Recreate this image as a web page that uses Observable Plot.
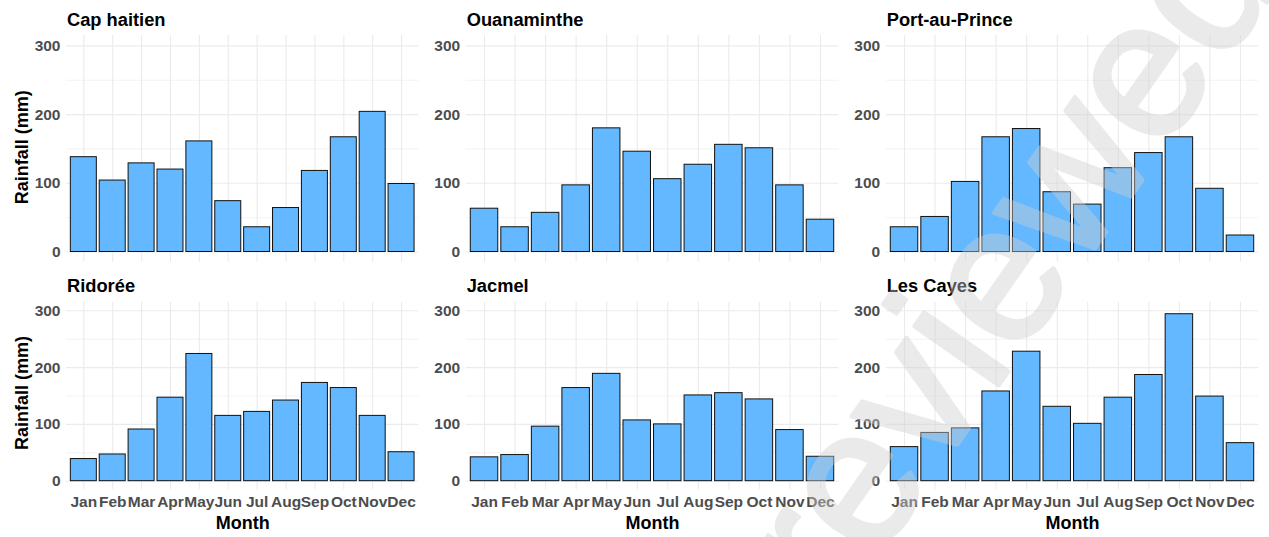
<!DOCTYPE html>
<html>
<head>
<meta charset="utf-8">
<script src="https://cdn.jsdelivr.net/npm/d3@7"></script>
<script src="https://cdn.jsdelivr.net/npm/@observablehq/plot@0.6"></script>
<style>
  html, body { margin: 0; padding: 0; background: #fff; }
  #chart { position: relative; width: 1269px; height: 537px; overflow: hidden;
           font-family: "Liberation Sans", Arial, sans-serif; }
  #chart .cell { position: absolute; }
  #chart svg { display: block; overflow: visible; }
  #stamp { position: absolute; left: 0; top: 0; pointer-events: none; }
</style>
</head>
<body>
<div id="chart"></div>
<script>
// Monthly rainfall (mm) at six Haitian stations
const months = ["Jan", "Feb", "Mar", "Apr", "May", "Jun", "Jul", "Aug", "Sep", "Oct", "Nov", "Dec"];
const stations = ["Cap haitien", "Ouanaminthe", "Port-au-Prince", "Ridorée", "Jacmel", "Les Cayes"];
const capHaitien   = [138, 104, 129, 120, 161, 74, 36, 64, 118, 167, 204, 99];
const ouanaminthe  = [63, 36, 57, 97, 180, 146, 106, 127, 156, 151, 97, 47];
const portAuPrince = [36, 51, 102, 167, 179, 87, 69, 122, 144, 167, 92, 24];
const ridoree      = [39, 47, 91, 147, 224, 115, 122, 142, 173, 164, 115, 51];
const jacmel       = [42, 46, 96, 164, 189, 107, 100, 151, 155, 144, 90, 43];
const lesCayes     = [60, 85, 93, 158, 228, 131, 101, 147, 187, 294, 149, 67];
const yTicks = [0, 100, 200, 300];
const yMinorTicks = [50, 150, 250];
const yLimits = [0, 300];
const yTitle = "Rainfall (mm)";
const xTitle = "Month";

const series = [capHaitien, ouanaminthe, portAuPrince, ridoree, jacmel, lesCayes];

// y limits expanded by 5% of the range on each side
const span = yLimits[1] - yLimits[0];
const yDomain = [yLimits[0] - 0.05 * span, yLimits[1] + 0.05 * span];

// grid cell geometry: three columns, two rows
const cols = [
  {left: 0,   width: 423, ml: 66,   mr: 4.6},
  {left: 423, width: 423, ml: 42.7, mr: 7.7},
  {left: 846, width: 423, ml: 39.7, mr: 10.7}
];
const rows = [
  {top: 0,   height: 265, mt: 35.1, mb: 3.2,  titleDy: -9.4,  yTitleDy: -1.8, showX: false},
  {top: 265, height: 272, mt: 36.8, mb: 47.8, titleDy: -10.8, yTitleDy: -3,   showX: true}
];

const fill = "#63b8ff";
const gridColor = "#ebebeb";
const tickColor = "#4d4d4d";
const font = "'Liberation Sans', Arial, sans-serif";

const chart = document.getElementById("chart");

stations.forEach((name, k) => {
  const col = cols[k % 3];
  const row = rows[Math.floor(k / 3)];
  const data = months.map((m, i) => ({month: m, rain: series[k][i]}));

  const marks = [
    Plot.gridY(yMinorTicks, {stroke: gridColor, strokeOpacity: 1, strokeWidth: 0.6}),
    Plot.gridY(yTicks, {stroke: gridColor, strokeOpacity: 1, strokeWidth: 1.1}),
    Plot.gridX({stroke: gridColor, strokeOpacity: 1, strokeWidth: 1.1}),
    Plot.barY(data, {x: "month", y: "rain", fill, stroke: "#111", strokeWidth: 1}),
    Plot.axisY(yTicks, {tickSize: 0, tickPadding: 6, fontSize: 15.5, fontWeight: "bold",
                        color: tickColor, label: null}),
    Plot.text([name], {frameAnchor: "top-left", textAnchor: "start", lineAnchor: "bottom",
                       dx: 0.5, dy: row.titleDy, fontSize: 18.3, fontWeight: "bold", fill: "#000"})
  ];
  if (row.showX) {
    marks.push(
      Plot.axisX({tickSize: 0, tickPadding: 6, fontSize: 15.5, fontWeight: "bold",
                  color: tickColor, label: null}),
      Plot.text([xTitle], {frameAnchor: "bottom", textAnchor: "middle", lineAnchor: "bottom",
                           dy: 39.1, fontSize: 18, fontWeight: "bold", fill: "#000"})
    );
  }
  if (k % 3 === 0) {
    marks.push(
      Plot.text([yTitle], {frameAnchor: "left", textAnchor: "middle", lineAnchor: "bottom",
                           rotate: -90, dx: 27.4 - col.ml, dy: row.yTitleDy,
                           fontSize: 18, fontWeight: "bold", fill: "#000"})
    );
  }

  const svg = Plot.plot({
    width: col.width,
    height: row.height,
    marginLeft: col.ml,
    marginRight: col.mr,
    marginTop: row.mt,
    marginBottom: row.mb,
    style: {fontFamily: font, background: "transparent", overflow: "visible"},
    x: {type: "band", domain: months, paddingInner: 0.1, paddingOuter: 0.15, round: false, axis: null},
    y: {domain: yDomain, axis: null},
    marks
  });

  const cell = document.createElement("div");
  cell.className = "cell";
  cell.style.left = col.left + "px";
  cell.style.top = row.top + "px";
  cell.appendChild(svg);
  chart.appendChild(cell);
});

// faint diagonal stamp over the right-hand panels
const stamp = d3.select("#chart").append("svg")
  .attr("id", "stamp").attr("width", 1269).attr("height", 537);
stamp.append("text")
  .attr("transform", "translate(836,618) rotate(-55)")
  .attr("font-family", font)
  .attr("font-size", 195)
  .attr("fill", "#cfcfcf")
  .attr("stroke", "#cfcfcf")
  .attr("stroke-width", 4)
  .attr("stroke-linejoin", "round")
  .attr("opacity", 0.42)
  .text("reviewed");
</script>
</body>
</html>
